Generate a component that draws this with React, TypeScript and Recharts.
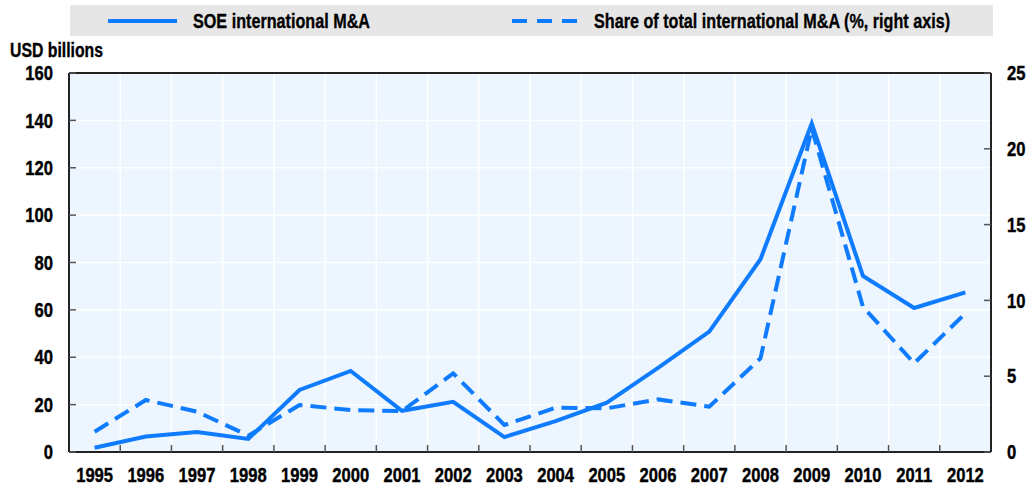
import React from "react";
import {
  LineChart,
  Line,
  XAxis,
  YAxis,
  CartesianGrid,
  Legend,
  ReferenceLine,
} from "recharts";

const years = [
  1995, 1996, 1997, 1998, 1999, 2000, 2001, 2002, 2003, 2004, 2005, 2006,
  2007, 2008, 2009, 2010, 2011, 2012,
];
const soeMA = [
  1.8, 6.5, 8.4, 5.5, 26.2, 34.2, 17.4, 21.2, 6.3, 13.0, 20.8, 35.5, 50.8,
  81.4, 138.7, 74.3, 60.8, 67.4,
];
const shareOfTotal = [
  1.34, 3.43, 2.66, 1.08, 3.1, 2.77, 2.7, 5.19, 1.78, 2.92, 2.88, 3.47, 2.99,
  6.18, 21.35, 9.58, 5.85, 9.15,
];
const leftTicks = [0, 20, 40, 60, 80, 100, 120, 140, 160];
const rightTicks = [0, 5, 10, 15, 20, 25];
const bandEdges = years.slice(0, -1).map((y) => y + 0.5);

const data = years.map((year, i) => ({
  year,
  soe: soeMA[i],
  share: shareOfTotal[i],
}));

const BLUE = "#0f7bff";
const FONT = "'Liberation Sans', Arial, sans-serif";
const SQUEEZE = 0.83;

// narrow bold labels: Liberation Sans Bold squeezed horizontally
const NarrowTick = (anchor: "start" | "middle" | "end", dy: number | string) =>
  (props: any) => {
    const { x, y, payload } = props;
    return (
      <g transform={`translate(${x},${y})`}>
        <text
          transform={`scale(${SQUEEZE},1)`}
          textAnchor={anchor}
          dy={dy}
          fill="#000"
          stroke="#000"
          strokeWidth={0.4}
          fontSize={20}
          fontWeight={700}
          fontFamily={FONT}
        >
          {payload.value}
        </text>
      </g>
    );
  };

const narrowHtml = (scale: number): React.CSSProperties => ({
  display: "inline-block",
  transform: `scaleX(${scale})`,
  transformOrigin: "left center",
  whiteSpace: "nowrap",
  WebkitTextStroke: "0.35px #000",
});

const renderLegend = (props: any) => {
  const items = props.payload || [];
  const lefts = [38, 442];
  const widths = [69, 66];
  return (
    <div
      style={{
        position: "relative",
        background: "#e6e6e6",
        height: 31,
        fontFamily: FONT,
        fontWeight: 700,
        fontSize: 21,
        color: "#000",
      }}
    >
      {items.map((it: any, i: number) => (
        <div
          key={i}
          style={{
            position: "absolute",
            left: lefts[i],
            top: 0,
            height: 31,
            display: "flex",
            alignItems: "center",
          }}
        >
          <svg width={widths[i]} height={10} style={{ marginRight: 16 }}>
            <line
              x1={0}
              y1={5}
              x2={widths[i]}
              y2={5}
              stroke={BLUE}
              strokeWidth={4}
              strokeDasharray={i === 1 ? "15 10" : undefined}
            />
          </svg>
          <span style={narrowHtml(0.77)}>{it.value}</span>
        </div>
      ))}
    </div>
  );
};

export default function App() {
  return (
    <div
      style={{
        position: "absolute",
        left: 0,
        top: 0,
        width: 1030,
        height: 487,
        background: "#fff",
      }}
    >
      <div
        style={{
          position: "absolute",
          left: 10,
          top: 42,
          lineHeight: "16px",
          fontFamily: FONT,
          fontWeight: 700,
          fontSize: 20,
        }}
      >
        <span style={narrowHtml(0.79)}>USD billions</span>
      </div>
      <LineChart
        width={1030}
        height={487}
        data={data}
        margin={{ top: 73, right: 5, bottom: 0, left: 9 }}
      >
        <CartesianGrid
          xAxisId="edges"
          yAxisId="left"
          fill="#edf5fe"
          stroke="#ffffff"
          strokeWidth={1.5}
        />
        <XAxis
          dataKey="year"
          type="number"
          domain={[1994.5, 2012.5]}
          allowDataOverflow
          ticks={years}
          interval={0}
          height={35}
          tickLine={false}
          tickSize={0}
          tickMargin={0}
          axisLine={{ stroke: "#222", strokeWidth: 2 }}
          tick={NarrowTick("middle", 30)}
        />
        <XAxis
          xAxisId="edges"
          dataKey="year"
          type="number"
          domain={[1994.5, 2012.5]}
          allowDataOverflow
          ticks={bandEdges}
          interval={0}
          mirror
          tick={() => <g />}
          axisLine={false}
          tickLine={{ stroke: "#555", strokeWidth: 1.5 }}
          tickSize={7}
        />
        <YAxis
          yAxisId="left"
          domain={[0, 160]}
          allowDataOverflow
          ticks={leftTicks}
          interval={0}
          width={60}
          tickLine={false}
          tickSize={0}
          tickMargin={16}
          axisLine={{ stroke: "#222", strokeWidth: 2 }}
          tick={NarrowTick("end", "0.36em")}
        />
        <YAxis
          yAxisId="leftMarks"
          domain={[0, 160]}
          allowDataOverflow
          ticks={leftTicks}
          interval={0}
          mirror
          tick={() => <g />}
          axisLine={false}
          tickLine={{ stroke: "#555", strokeWidth: 1.5 }}
          tickSize={7}
        />
        <YAxis
          yAxisId="right"
          orientation="right"
          domain={[0, 25]}
          allowDataOverflow
          ticks={rightTicks}
          interval={0}
          width={34}
          tickLine={false}
          tickSize={0}
          tickMargin={16}
          axisLine={{ stroke: "#222", strokeWidth: 2 }}
          tick={NarrowTick("start", "0.36em")}
        />
        <YAxis
          yAxisId="rightMarks"
          orientation="right"
          domain={[0, 25]}
          allowDataOverflow
          ticks={rightTicks}
          interval={0}
          mirror
          tick={() => <g />}
          axisLine={false}
          tickLine={{ stroke: "#555", strokeWidth: 1.5 }}
          tickSize={7}
        />
        <ReferenceLine yAxisId="left" y={160} stroke="#222" strokeWidth={2} />
        <Legend
          verticalAlign="middle"
          layout="horizontal"
          content={renderLegend}
          wrapperStyle={{ top: 5, left: 70, width: 923, height: 31 }}
        />
        <Line
          yAxisId="left"
          dataKey="soe"
          name="SOE international M&A"
          stroke={BLUE}
          strokeWidth={4}
          dot={false}
          isAnimationActive={false}
        />
        <Line
          yAxisId="right"
          dataKey="share"
          name="Share of total international M&A (%, right axis)"
          stroke={BLUE}
          strokeWidth={4}
          strokeDasharray="16 8"
          dot={false}
          isAnimationActive={false}
        />
      </LineChart>
    </div>
  );
}
